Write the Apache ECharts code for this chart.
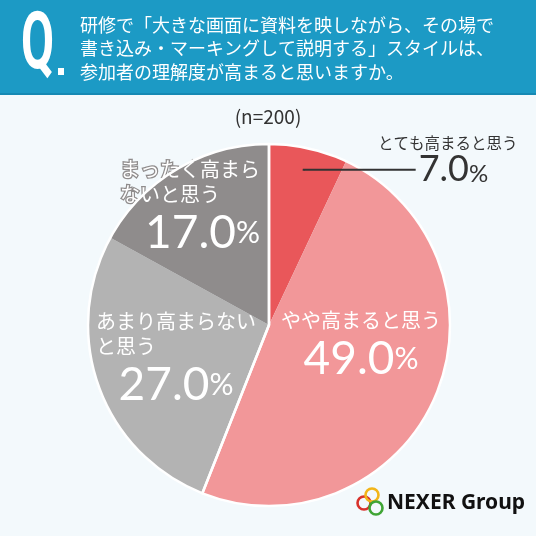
<!DOCTYPE html>
<html>
<head>
<meta charset="utf-8">
<script src="https://cdn.jsdelivr.net/npm/echarts@6/dist/echarts.min.js"></script>
<style>
html,body{margin:0;padding:0;background:#f3f9fc;}
#chart{width:536px;height:536px;}
</style>
</head>
<body>
<div id="chart"></div>
<script>
// 回答項目（表示用の改行入り）
var categories = ['とても高まると思う', 'やや高まると思う', 'あまり高まらない\nと思う', 'まったく高まら\nないと思う'];
var values = [7.0, 49.0, 27.0, 17.0];
var colors = ['#e9575a', '#f29799', '#b3b3b3', '#8f8c8c'];
var sampleText = '(n=200)';
var questionLines = [
	'研修で「大きな画面に資料を映しながら、その場で',
	'書き込み・マーキングして説明する」スタイルは、',
	'参加者の理解度が高まると思いますか。'
];
// 高まる / 高まらない の2グループ（白い区切り線用）
var groupValues = [values[0] + values[1], values[2] + values[3]];

var JP = '"Noto Sans CJK JP", "Noto Sans", sans-serif';
var NUM = 'Lato, "Noto Sans", sans-serif';

var chart = echarts.init(document.getElementById('chart'));

// ラベルの配置
var labelBoxes = [
	{x: 378, y: 143, align: 'left', verticalAlign: 'middle'},
	{x: 361, y: 308, align: 'center', verticalAlign: 'top'},
	{x: 96, y: 309, align: 'left', verticalAlign: 'top'},
	{x: 120, y: 157, align: 'left', verticalAlign: 'top'}
];
var nameStyle = ['t', 'nc', 'nl', 'nd'];
var valStyle = ['', 'vc', 'vc', 'vr'];

var mainData = [];
var lineData = [];
for (var i = 0; i < values.length; i++) {
	mainData.push({
		name: categories[i],
		value: values[i],
		itemStyle: {color: colors[i]}
	});
	lineData.push({
		name: categories[i],
		value: values[i],
		label: {show: i == 0}
	});
}

var nameRich = {fontFamily: JP, fontSize: 20, lineHeight: 25, color: '#fff'};
var valRich = {fontFamily: NUM, fontSize: 46, lineHeight: 52, color: '#fff'};
var pctRich = {fontFamily: NUM, fontSize: 30, lineHeight: 52, color: '#fff'};

var option = {
	backgroundColor: '#f3f9fc',
	animation: false,
	graphic: [
		{type: 'rect', shape: {x: 0, y: 0, width: 536, height: 95}, style: {fill: '#1c9ac5'}},
		{type: 'rect', shape: {x: 0, y: 93, width: 536, height: 2}, style: {fill: '#1689b3'}},
		{type: 'text', x: 21, y: 8, scaleX: 0.6, style: {text: 'Q', font: 'bold 80px Roboto', fill: '#fff'}},
		{type: 'rect', shape: {x: 58, y: 68, width: 6, height: 7}, style: {fill: '#fff'}},
		{type: 'text', x: 80, y: 13, style: {
			text: questionLines.join('\n'), font: '18px ' + JP, lineHeight: 23.5, fill: '#fff'
		}},
		{type: 'text', x: 268, y: 107, style: {
			text: sampleText, font: '19px ' + JP, fill: '#333', textAlign: 'center'
		}},
		// ロゴ
		{type: 'circle', shape: {cx: 364, cy: 503, r: 6.5}, style: {fill: 'none', stroke: '#d8322b', lineWidth: 2.6}},
		{type: 'circle', shape: {cx: 372, cy: 495, r: 6.5}, style: {fill: 'none', stroke: '#f2b519', lineWidth: 2.6}},
		{type: 'circle', shape: {cx: 376, cy: 508, r: 6.5}, style: {fill: 'none', stroke: '#3fa535', lineWidth: 2.6}},
		{type: 'text', x: 387, y: 493, style: {
			text: 'NEXER Group', font: 'bold 21px "Noto Sans", sans-serif', fill: '#111'
		}}
	],
	series: [
		{
			type: 'pie',
			z: 2,
			center: [269, 325],
			radius: [0, 181],
			startAngle: 90,
			clockwise: true,
			avoidLabelOverlap: false,
			silent: true,
			data: mainData,
			itemStyle: {borderWidth: 0},
			label: {
				show: true,
				position: 'inside',
				formatter: function(p){
					var k = p.dataIndex;
					if (k == 0) return '{t|' + p.name + '}';
					return '{' + nameStyle[k] + '|' + p.name + '}\n{' + valStyle[k] + '|' + p.value.toFixed(1) + '}{' + valStyle[k] + 'p|%}';
				},
				rich: {
					t: {fontFamily: JP, fontSize: 15.5, color: '#333'},
					nl: Object.assign({align: 'left'}, nameRich),
					nd: Object.assign({align: 'left', textBorderColor: '#8f8c8c', textBorderWidth: 2.5}, nameRich),
					nc: Object.assign({align: 'center'}, nameRich),
					vc: Object.assign({align: 'center'}, valRich),
					vcp: Object.assign({align: 'center'}, pctRich),
					vr: Object.assign({align: 'right'}, valRich),
					vrp: Object.assign({align: 'right'}, pctRich)
				}
			},
			labelLine: {show: false},
			labelLayout: function(p){
				return labelBoxes[p.dataIndex];
			}
		},
		{
			// 白い区切り線
			type: 'pie',
			z: 3,
			center: [269, 325],
			radius: [0, 181],
			startAngle: 90,
			silent: true,
			data: groupValues,
			itemStyle: {color: 'rgba(0,0,0,0)', borderColor: '#ffffff', borderWidth: 2.5},
			label: {show: false},
			labelLine: {show: false}
		},
		{
			// 「とても高まると思う」の引き出し線
			type: 'pie',
			z: 4,
			center: [269, 325],
			radius: [0, 158],
			startAngle: 90,
			silent: true,
			avoidLabelOverlap: false,
			data: lineData,
			itemStyle: {color: 'rgba(0,0,0,0)'},
			label: {
				position: 'outside',
				distanceToLabelLine: 3,
				formatter: function(p){
					return '{v|' + p.value.toFixed(1) + '}{p|%}';
				},
				rich: {
					v: {fontFamily: NUM, fontSize: 36, color: '#333'},
					p: {fontFamily: NUM, fontSize: 24, color: '#333', padding: [8, 0, 0, 0]}
				}
			},
			labelLine: {
				show: true,
				length: 1,
				length2: 112,
				lineStyle: {color: '#333', width: 2}
			}
		}
	]
};

chart.setOption(option);
</script>
</body>
</html>
